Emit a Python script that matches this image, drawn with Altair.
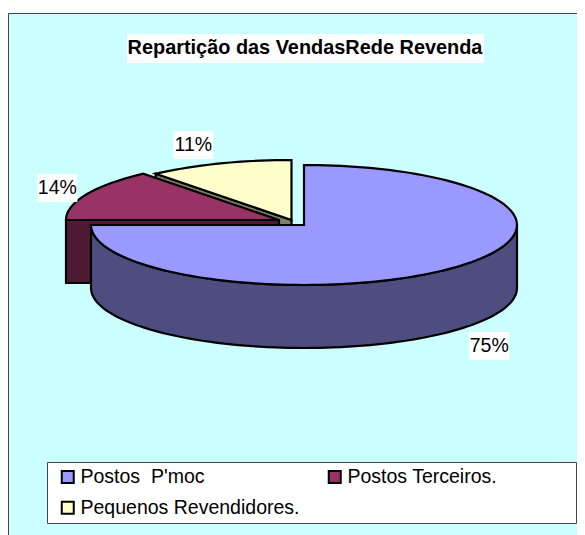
import math
import altair as alt
import pandas as pd

# --- chart values ---
categories = ["Postos \u00a0P'moc", "Postos Terceiros.", "Pequenos Revendidores."]
shares = [75, 14, 11]
share_labels = ["75%", "14%", "11%"]
title_text = "Repartição das VendasRede Revenda"

# --- styling and layout ---
top_colors = ["#9999FF", "#993366", "#FFFFCC"]
wall_colors = ["#4D4D80", "#4D1A33", "#808066"]
centers = [(304, 225), (279, 220), (291.5, 220)]
label_reach = [(1.23, 1.37), (1.15, 1.25), (1.36, 1.33)]
RX, RY, DEPTH = 213, 60, 63
FONT = "Liberation Sans"
W, H = 569, 527
xs = alt.Scale(domain=[8, 8 + W], nice=False, zero=False)
ys = alt.Scale(domain=[8 + H, 8], nice=False, zero=False)
# the legend fills column by column, so this order reads row by row like the original
legend_order = [categories[0], categories[2], categories[1]]
legend_colors = [top_colors[0], top_colors[2], top_colors[1]]


def ell(c, a, off=0):
    r = math.radians(a)
    return c[0] + RX * math.sin(r), c[1] - RY * math.cos(r) + off


def arc(c, a0, a1, off=0):
    n = max(2, int(abs(a1 - a0) / 2))
    return [ell(c, a0 + (a1 - a0) * i / n, off) for i in range(n + 1)]


def poly(points, fill=None, cat=None):
    df = pd.DataFrame(points, columns=["x", "y"])
    df["o"] = range(len(df))
    enc = dict(
        x=alt.X("x:Q", scale=xs, axis=None),
        y=alt.Y("y:Q", scale=ys, axis=None),
        order=alt.Order("o:Q"),
    )
    kw = dict(interpolate="linear-closed", stroke="black", strokeWidth=2.2, strokeJoin="miter", clip=False)
    if cat is not None:
        df["cat"] = cat
        enc["fill"] = alt.Fill(
            "cat:N",
            scale=alt.Scale(domain=legend_order, range=legend_colors),
            sort=legend_order,
            legend=alt.Legend(
                title=None, orient="none", legendX=50, legendY=459, columns=2, padding=0,
                symbolType="square", symbolSize=144, symbolStrokeColor="black", symbolStrokeWidth=2,
                labelFont=FONT, labelFontSize=19.5, labelColor="black",
                labelOffset=3, labelLimit=400, rowPadding=10, columnPadding=24, gridAlign="each",
            ),
        )
    else:
        kw["fill"] = fill
    return alt.Chart(df).mark_line(**kw).encode(**enc)


def box(x0, y0, x1, y1, fill, stroke=None):
    df = pd.DataFrame([dict(x=x0, x2=x1, y=y0, y2=y1)])
    kw = dict(fill=fill, clip=False)
    if stroke:
        kw.update(stroke=stroke, strokeWidth=1)
    return alt.Chart(df).mark_rect(**kw).encode(
        x=alt.X("x:Q", scale=xs, axis=None), x2="x2:Q",
        y=alt.Y("y:Q", scale=ys, axis=None), y2="y2:Q",
    )


# cumulative slice angles, clockwise from twelve o'clock
starts, acc = [], 0
for s in shares:
    starts.append(acc)
    acc += s * 3.6
ends = [a + s * 3.6 for a, s in zip(starts, shares)]

layers = [
    box(8.5, 13.5, 620, 560, "#CCFFFF", "#444444"),
    box(127, 34, 484, 63, "white"),
    box(47.5, 462.5, 576.5, 523.5, "white", "#444444"),
]

# draw back to front: small slices first, the large slice last
for i in (2, 1, 0):
    c = centers[i]
    if i == 0:
        wall = arc(c, 90, 270) + arc(c, 270, 90, DEPTH)
    else:
        p = ell(c, starts[i])
        wall = [c, p, (p[0], p[1] + DEPTH), (c[0], c[1] + DEPTH)]
    layers.append(poly(wall, fill=wall_colors[i]))
    layers.append(poly([c] + arc(c, starts[i], ends[i]), cat=categories[i]))

# percentage labels on white plates
for i in range(3):
    c = centers[i]
    mid = math.radians((starts[i] + ends[i]) / 2)
    lx = c[0] + label_reach[i][0] * RX * math.sin(mid)
    off = DEPTH if math.cos(mid) < 0 else 0
    ly = c[1] - label_reach[i][1] * RY * math.cos(mid) + off
    layers.append(box(lx - 20, ly - 14, lx + 20, ly + 14, "white"))
    layers.append(
        alt.Chart(pd.DataFrame([dict(x=lx, y=ly, t=share_labels[i])]))
        .mark_text(font=FONT, fontSize=19.5, color="black", align="center", baseline="middle")
        .encode(x=alt.X("x:Q", scale=xs, axis=None), y=alt.Y("y:Q", scale=ys, axis=None), text="t:N")
    )

chart = (
    alt.layer(*layers)
    .properties(
        width=W,
        height=H,
        padding=0,
        background="white",
        autosize=alt.AutoSizeParams(type="none"),
        title=alt.TitleParams(
            title_text, font=FONT, fontSize=19.9, fontWeight="bold", color="black",
            anchor="start", align="center", dx=297, dy=50, offset=0,
        ),
    )
    .configure_view(stroke=None)
)

chart.save("out.html", embed_options={"renderer": "svg", "actions": False})
